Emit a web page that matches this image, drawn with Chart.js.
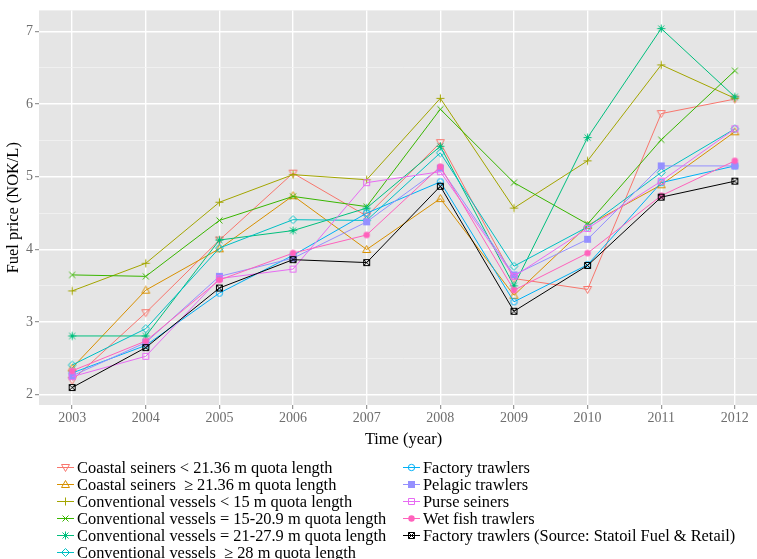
<!DOCTYPE html>
<html>
<head>
<meta charset="utf-8">
<script src="https://cdn.jsdelivr.net/npm/chart.js@4/dist/chart.umd.min.js"></script>
<style>
  html, body { margin: 0; padding: 0; background: #fff; width: 757px; height: 559px; overflow: hidden; }
  #wrap { position: absolute; left: 0; top: 0; width: 800px; height: 455px; }
  #legend { position: absolute; left: 0; top: 0; width: 757px; height: 559px;
            font-family: "Liberation Serif", "Times New Roman", serif; font-size: 16.4px; color: #000; }
  .item { position: absolute; height: 17px; line-height: 17px; white-space: pre; display: flex; align-items: center; }
  .item canvas { margin-right: 3px; }
</style>
</head>
<body>
<div id="wrap"><canvas id="chart" width="800" height="455"></canvas></div>
<div id="legend"></div>
<script>
const FONT = '"Liberation Serif", "Times New Roman", serif';

// Years on the x axis and the labelled fuel price ticks (NOK/L)
const years = [2003, 2004, 2005, 2006, 2007, 2008, 2009, 2010, 2011, 2012];
const yMajorTicks = [2, 3, 4, 5, 6, 7];
const yMinorTicks = [2.5, 3.5, 4.5, 5.5, 6.5];

// Fuel price per fleet group, 2003-2012
const coastalSeinersUnder = [2.20, 3.13, 4.13, 5.05, 4.46, 5.47, 3.60, 3.45, 5.87, 6.07];
const coastalSeinersOver  = [2.37, 3.44, 4.01, 4.74, 4.00, 4.70, 3.37, 4.33, 4.89, 5.62];
const conventionalUnder15 = [3.43, 3.81, 4.65, 5.03, 4.96, 6.08, 4.57, 5.22, 6.54, 6.08];
const conventional15to21  = [3.65, 3.63, 4.40, 4.73, 4.59, 5.93, 4.92, 4.35, 5.51, 6.46];
const conventional21to28  = [2.81, 2.81, 4.13, 4.26, 4.57, 5.42, 3.50, 5.54, 7.04, 6.10];
const conventionalOver28  = [2.41, 2.91, 4.02, 4.41, 4.40, 5.33, 3.77, 4.31, 5.06, 5.66];
const factoryTrawlers     = [2.30, 2.68, 3.40, 3.92, 4.50, 4.93, 3.28, 3.79, 4.92, 5.15];
const pelagicTrawlers     = [2.26, 2.72, 3.63, 3.88, 4.38, 5.12, 3.65, 4.14, 5.15, 5.15];
const purseSeiners        = [2.25, 2.53, 3.60, 3.73, 4.92, 5.07, 3.63, 4.29, 4.94, 5.66];
const wetFishTrawlers     = [2.33, 2.74, 3.58, 3.95, 4.20, 5.14, 3.44, 3.95, 4.74, 5.22];
const factoryStatoil      = [2.10, 2.65, 3.47, 3.86, 3.82, 4.87, 3.15, 3.78, 4.72, 4.94];

const seriesLabels = [
  'Coastal seiners < 21.36 m quota length',
  'Coastal seiners  \u2265 21.36 m quota length',
  'Conventional vessels < 15 m quota length',
  'Conventional vessels = 15-20.9 m quota length',
  'Conventional vessels = 21-27.9 m quota length',
  'Conventional vessels  \u2265 28 m quota length',
  'Factory trawlers',
  'Pelagic trawlers',
  'Purse seiners',
  'Wet fish trawlers',
  'Factory trawlers (Source: Statoil Fuel & Retail)'
];
const seriesValues = [coastalSeinersUnder, coastalSeinersOver, conventionalUnder15, conventional15to21,
  conventional21to28, conventionalOver28, factoryTrawlers, pelagicTrawlers, purseSeiners,
  wetFishTrawlers, factoryStatoil];
const seriesColors = ['#F8766D', '#D89000', '#A3A500', '#39B600', '#00BF7D', '#00BFC4',
  '#00B0F6', '#9590FF', '#E76BF3', '#FF62BC', '#000000'];
const seriesShapes = ['triDown', 'triUp', 'plus', 'cross', 'asterisk', 'diamond',
  'circle', 'squareFill', 'square', 'circleFill', 'squareX'];

// Draws one point symbol centred on (x, y)
function drawMarker(g, shape, color, x, y) {
  g.save();
  g.strokeStyle = color;
  g.fillStyle = color;
  g.lineWidth = 1;
  g.beginPath();
  switch (shape) {
    case 'circle':
      g.arc(x, y, 3.2, 0, Math.PI * 2); g.stroke(); break;
    case 'circleFill':
      g.arc(x, y, 3.2, 0, Math.PI * 2); g.fill(); break;
    case 'square':
      g.rect(x - 3, y - 3, 6, 6); g.stroke(); break;
    case 'squareFill':
      g.rect(x - 3.5, y - 3.5, 7, 7); g.fill(); break;
    case 'squareX':
      g.rect(x - 3, y - 3, 6, 6);
      g.moveTo(x - 3, y - 3); g.lineTo(x + 3, y + 3);
      g.moveTo(x + 3, y - 3); g.lineTo(x - 3, y + 3);
      g.stroke(); break;
    case 'triUp':
      g.moveTo(x, y - 4); g.lineTo(x + 4, y + 3); g.lineTo(x - 4, y + 3); g.closePath(); g.stroke(); break;
    case 'triDown':
      g.moveTo(x, y + 4); g.lineTo(x + 4, y - 3); g.lineTo(x - 4, y - 3); g.closePath(); g.stroke(); break;
    case 'plus':
      g.moveTo(x - 4, y); g.lineTo(x + 4, y);
      g.moveTo(x, y - 4); g.lineTo(x, y + 4);
      g.stroke(); break;
    case 'cross':
      g.moveTo(x - 3, y - 3); g.lineTo(x + 3, y + 3);
      g.moveTo(x + 3, y - 3); g.lineTo(x - 3, y + 3);
      g.stroke(); break;
    case 'asterisk':
      g.moveTo(x - 4, y); g.lineTo(x + 4, y);
      g.moveTo(x, y - 4); g.lineTo(x, y + 4);
      g.moveTo(x - 3, y - 3); g.lineTo(x + 3, y + 3);
      g.moveTo(x + 3, y - 3); g.lineTo(x - 3, y + 3);
      g.stroke(); break;
    case 'diamond':
      g.moveTo(x, y - 4); g.lineTo(x + 4, y); g.lineTo(x, y + 4); g.lineTo(x - 4, y); g.closePath(); g.stroke(); break;
  }
  g.restore();
}

function markerCanvas(shape, color) {
  const c = document.createElement('canvas');
  c.width = 11; c.height = 11;
  drawMarker(c.getContext('2d'), shape, color, 5.5, 5.5);
  return c;
}

const pointImages = seriesShapes.map((s, i) => markerCanvas(s, seriesColors[i]));

// Grey panel behind the plotted lines
const panelBackground = {
  id: 'panelBackground',
  beforeDraw(chart) {
    const { ctx, chartArea: a } = chart;
    ctx.save();
    ctx.fillStyle = '#E5E5E5';
    ctx.fillRect(a.left, a.top, a.right - a.left, a.bottom - a.top);
    ctx.restore();
  }
};

const isMajor = v => Math.abs(v - Math.round(v)) < 1e-9;

new Chart(document.getElementById('chart'), {
  type: 'line',
  data: {
    datasets: seriesLabels.map((label, i) => ({
      label,
      data: years.map((yr, j) => ({ x: yr, y: seriesValues[i][j] })),
      borderColor: seriesColors[i],
      backgroundColor: seriesColors[i],
      borderWidth: 1,
      pointStyle: pointImages[i],
      pointRadius: 4,
      pointHoverRadius: 4,
      tension: 0,
      fill: false,
      order: seriesLabels.length - i
    }))
  },
  options: {
    responsive: false,
    animation: false,
    devicePixelRatio: 1,
    layout: { padding: { left: 0, top: 10, right: 32, bottom: 0 } },
    plugins: { legend: { display: false }, tooltip: { enabled: false } },
    scales: {
      x: {
        type: 'linear',
        min: 2002.55,
        max: 2012.45,
        afterBuildTicks: s => { s.ticks = years.map(v => ({ value: v })); },
        afterFit: s => { s.height = 50; },
        ticks: {
          callback: v => String(v),
          font: { family: FONT, size: 14 },
          color: '#6E6E6E',
          padding: 1,
          maxRotation: 0,
          autoSkip: false
        },
        grid: { color: '#FFFFFF', lineWidth: 1.4, tickColor: '#7F7F7F', tickLength: 4, tickWidth: 1 },
        border: { display: false },
        title: { display: true, text: 'Time (year)', font: { family: FONT, size: 16.4 }, color: '#000', padding: { top: 0, bottom: 5 } }
      },
      y: {
        type: 'linear',
        min: 1.86,
        max: 7.29,
        afterBuildTicks: s => {
          s.ticks = yMajorTicks.concat(yMinorTicks).sort((a, b) => a - b).map(v => ({ value: v }));
        },
        afterFit: s => { s.width = 39; },
        ticks: {
          callback: v => isMajor(v) ? String(v) : '',
          font: { family: FONT, size: 14 },
          color: '#6E6E6E',
          padding: 2,
          autoSkip: false
        },
        grid: {
          color: c => isMajor(c.tick.value) ? '#FFFFFF' : '#F2F2F2',
          lineWidth: c => isMajor(c.tick.value) ? 1.4 : 0.8,
          tickColor: c => isMajor(c.tick.value) ? '#7F7F7F' : 'rgba(0,0,0,0)',
          tickLength: 4,
          tickWidth: 1
        },
        border: { display: false },
        title: { display: true, text: 'Fuel price (NOK/L)', font: { family: FONT, size: 16.4 }, color: '#000', padding: { top: 4, bottom: 0 } }
      }
    }
  },
  plugins: [panelBackground]
});

// Two-column legend below the plot
const legend = document.getElementById('legend');
const legendColumns = [{ x: 57, rows: 6 }, { x: 403, rows: 5 }];
const legendTop = 458.5;
const rowHeight = 17;
let k = 0;
legendColumns.forEach(col => {
  for (let r = 0; r < col.rows; r++, k++) {
    const item = document.createElement('div');
    item.className = 'item';
    item.style.left = col.x + 'px';
    item.style.top = (legendTop + r * rowHeight) + 'px';
    const key = document.createElement('canvas');
    key.width = 17; key.height = 11;
    const g = key.getContext('2d');
    g.strokeStyle = seriesColors[k];
    g.lineWidth = 1;
    g.beginPath(); g.moveTo(0, 5.5); g.lineTo(17, 5.5); g.stroke();
    drawMarker(g, seriesShapes[k], seriesColors[k], 8.5, 5.5);
    const text = document.createElement('span');
    text.textContent = seriesLabels[k];
    item.appendChild(key);
    item.appendChild(text);
    legend.appendChild(item);
  }
});
</script>
</body>
</html>
